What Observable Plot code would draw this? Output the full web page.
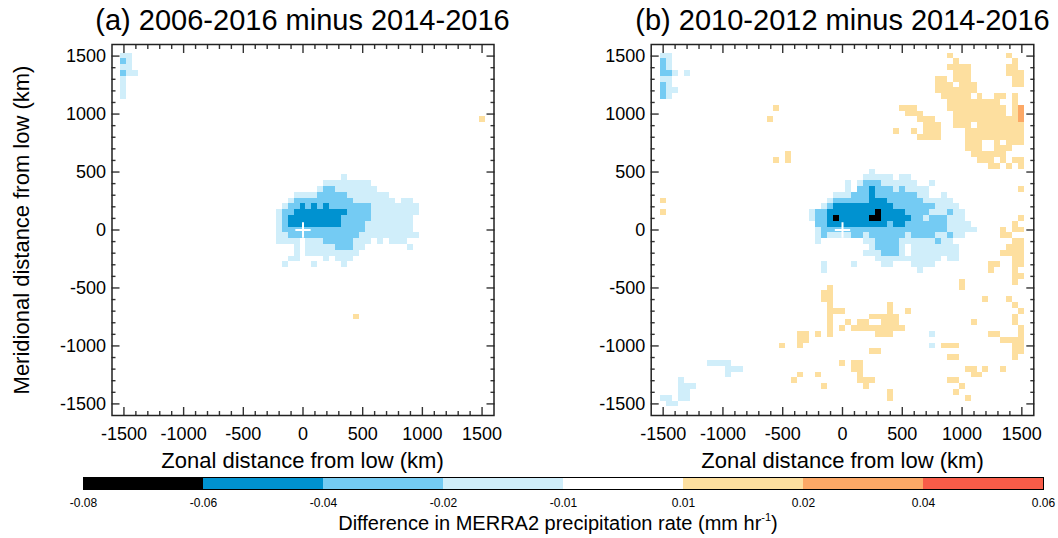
<!DOCTYPE html>
<html><head><meta charset="utf-8">
<script src="https://cdn.jsdelivr.net/npm/d3@7"></script>
<script src="https://cdn.jsdelivr.net/npm/@observablehq/plot@0.6"></script>
<style>
html,body{margin:0;padding:0;background:#fff;}
#root{position:relative;width:1058px;height:538px;overflow:hidden;font-family:"Liberation Sans",Arial,Helvetica,sans-serif;color:#000;}
.abs{position:absolute;white-space:nowrap;line-height:1;}
.title{font-size:29px;transform:translateX(-50%);}
.axt{font-size:22px;transform:translateX(-50%);}
.ylab{font-size:22px;transform:translate(-50%,-50%) rotate(-90deg);}
.cbt{font-size:20px;transform:translateX(-50%);}
.cbt sup{font-size:11px;vertical-align:9px;}
</style></head>
<body><div id="root"></div>
<script>
// ---- colour bins (mm/hr) ----
const binEdges = [-0.08, -0.06, -0.04, -0.02, -0.01, 0.01, 0.02, 0.04, 0.06];
const binLabels = ["-0.08", "-0.06", "-0.04", "-0.02", "-0.01", "0.01", "0.02", "0.04", "0.06"];
const binColors = ["#000000", "#0092d0", "#74cbf3", "#d0eefa", "#ffffff", "#fddf9f", "#fca866", "#f85c48"];
const binMid = [-0.07, -0.05, -0.03, -0.015, 0, 0.015, 0.03, 0.05];
const codeValue = {K: -0.07, D: -0.05, M: -0.03, L: -0.015, Y: 0.015, O: 0.03, R: 0.05};

// ---- grid ----
const cellSize = 50; // km
const majorTicks = [-1500, -1000, -500, 0, 500, 1000, 1500];
const minorTicks = [-1400,-1300,-1200,-1100,-900,-800,-700,-600,-400,-300,-200,-100,100,200,300,400,600,700,800,900,1100,1200,1300,1400];
const lowCenter = [{x: 0, y: 0}];

// runs: [row j, first column i, last column i, bin code]; cell centre = (i*50 km, j*50 km)
const panelA = [
 [30,-30,-29,"L"],
 [29,-30,-30,"M"],[29,-29,-29,"L"],
 [28,-30,-29,"L"],
 [27,-30,-30,"M"],[27,-29,-28,"L"],
 [26,-30,-30,"L"],[25,-30,-30,"L"],[24,-30,-30,"L"],[23,-30,-30,"L"],
 [19,30,30,"Y"],[-15,9,9,"Y"],
 [9,7,7,"L"],
 [8,4,11,"L"],
 [7,3,3,"L"],[7,4,5,"M"],[7,6,12,"L"],
 [6,-1,2,"L"],[6,3,7,"M"],[6,8,14,"L"],
 [5,-2,-2,"L"],[5,-1,8,"M"],[5,9,15,"L"],[5,17,18,"L"],
 [4,-3,-3,"L"],[4,-2,-1,"M"],[4,0,0,"D"],[4,1,1,"M"],[4,2,2,"D"],[4,3,3,"M"],[4,4,4,"D"],[4,5,11,"M"],[4,12,19,"L"],
 [3,-4,-4,"L"],[3,-3,-2,"M"],[3,-1,7,"D"],[3,8,11,"M"],[3,12,19,"L"],
 [2,-4,-4,"L"],[2,-3,-3,"M"],[2,-2,6,"D"],[2,7,11,"M"],[2,12,18,"L"],
 [1,-4,-4,"L"],[1,-3,-3,"M"],[1,-2,6,"D"],[1,7,10,"M"],[1,11,18,"L"],
 [0,-4,-4,"L"],[0,-3,10,"M"],[0,11,18,"L"],
 [-1,-4,-3,"L"],[-1,-2,9,"M"],[-1,10,19,"L"],
 [-2,-4,-1,"L"],[-2,1,3,"L"],[-2,4,8,"M"],[-2,9,11,"L"],[-2,13,13,"L"],[-2,15,17,"L"],
 [-3,-1,-1,"L"],[-3,1,5,"L"],[-3,6,8,"M"],[-3,9,10,"L"],[-3,18,18,"L"],
 [-4,-1,-1,"L"],[-4,1,9,"L"],
 [-5,-2,-1,"L"],[-5,4,4,"L"],[-5,6,8,"L"],
 [-6,-3,-3,"L"],[-6,2,2,"L"],[-6,7,7,"L"]
];

const panelBBlue = [
 [30,-30,-29,"L"],
 [29,-30,-30,"M"],[29,-29,-29,"L"],
 [28,-30,-30,"M"],[28,-29,-29,"L"],
 [27,-30,-29,"M"],[27,-28,-28,"L"],[27,-26,-26,"L"],
 [26,-30,-29,"L"],
 [25,-30,-30,"M"],[25,-29,-29,"L"],
 [24,-30,-30,"M"],[24,-29,-28,"L"],
 [23,-30,-30,"M"],[23,-29,-29,"L"],
 [10,5,5,"L"],
 [9,4,8,"L"],[9,10,11,"L"],
 [8,1,1,"L"],[8,3,3,"L"],[8,4,6,"M"],[8,7,12,"L"],[8,15,15,"L"],
 [7,1,1,"L"],[7,3,4,"M"],[7,5,5,"D"],[7,6,8,"M"],[7,9,9,"L"],[7,10,10,"M"],[7,11,14,"L"],
 [6,-1,1,"L"],[6,2,4,"M"],[6,5,5,"D"],[6,6,12,"M"],[6,13,14,"L"],[6,17,17,"L"],
 [5,-2,-2,"L"],[5,-1,4,"M"],[5,5,7,"D"],[5,8,13,"M"],[5,14,18,"L"],
 [4,-3,-3,"L"],[4,-2,-2,"M"],[4,-1,8,"D"],[4,9,15,"M"],[4,16,19,"L"],
 [3,-5,-5,"L"],[3,-4,-3,"M"],[3,-2,5,"D"],[3,6,6,"K"],[3,7,10,"D"],[3,11,14,"M"],[3,15,17,"L"],[3,18,18,"M"],[3,19,20,"L"],
 [2,-5,-5,"L"],[2,-4,-3,"M"],[2,-2,-2,"D"],[2,-1,-1,"K"],[2,0,4,"D"],[2,5,6,"K"],[2,7,11,"D"],[2,12,13,"M"],[2,14,14,"L"],[2,15,17,"M"],[2,18,20,"L"],
 [1,-4,-3,"M"],[1,-2,7,"D"],[1,8,8,"M"],[1,9,10,"D"],[1,11,17,"M"],[1,18,21,"L"],
 [0,-4,-4,"L"],[0,-3,17,"M"],[0,18,22,"L"],
 [-1,-4,-4,"L"],[-1,-3,-3,"M"],[-1,-2,1,"L"],[-1,2,3,"M"],[-1,4,4,"L"],[-1,5,10,"M"],[-1,11,11,"L"],[-1,12,15,"M"],[-1,16,17,"L"],[-1,18,18,"M"],[-1,19,20,"L"],
 [-2,-4,-4,"L"],[-2,4,5,"L"],[-2,6,9,"M"],[-2,10,15,"L"],[-2,16,16,"M"],[-2,17,18,"L"],
 [-3,5,5,"L"],[-3,6,9,"M"],[-3,10,10,"L"],[-3,12,19,"L"],
 [-4,4,6,"L"],[-4,7,9,"M"],[-4,10,10,"L"],[-4,12,19,"L"],
 [-5,6,16,"L"],[-5,18,19,"L"],
 [-6,-3,-3,"L"],[-6,2,2,"L"],[-6,7,8,"L"],[-6,12,15,"L"],
 [-7,-3,-3,"L"],[-7,13,13,"L"],
 [-18,15,15,"L"],[-20,15,15,"L"],
 [-23,-22,-19,"L"],[-24,-19,-17,"L"],[-25,-19,-19,"L"],
 [-26,-27,-27,"L"],[-27,-27,-25,"L"],[-28,-27,-26,"L"],[-29,-30,-29,"L"],[-29,-27,-26,"L"],[-30,-29,-28,"L"]
];

const panelBWarm = [
 [30,18,18,"Y"],[30,28,28,"Y"],
 [29,19,19,"Y"],[29,29,29,"Y"],
 [28,18,21,"Y"],[28,28,29,"Y"],
 [27,19,21,"Y"],[27,28,30,"Y"],
 [26,16,17,"Y"],[26,19,21,"Y"],[26,29,30,"Y"],
 [25,16,18,"Y"],[25,20,22,"Y"],[25,29,30,"Y"],
 [24,16,22,"Y"],
 [23,17,21,"Y"],[23,23,23,"Y"],[23,26,27,"Y"],[23,29,29,"Y"],
 [22,18,26,"Y"],[22,29,29,"Y"],
 [21,10,12,"Y"],[21,18,27,"Y"],[21,29,29,"Y"],[21,30,30,"O"],
 [20,11,13,"Y"],[20,19,27,"Y"],[20,29,29,"Y"],[20,30,30,"O"],
 [19,13,15,"Y"],[19,19,29,"Y"],[19,30,30,"O"],
 [18,14,16,"Y"],[18,19,21,"Y"],[18,23,30,"Y"],
 [17,9,9,"Y"],[17,12,12,"Y"],[17,14,16,"Y"],[17,21,30,"Y"],
 [16,13,16,"Y"],[16,21,30,"Y"],
 [15,21,23,"Y"],[15,26,26,"Y"],[15,28,30,"Y"],
 [14,21,23,"Y"],[14,26,28,"Y"],
 [13,22,27,"Y"],
 [12,23,25,"Y"],[12,27,27,"Y"],[12,29,30,"Y"],
 [11,25,26,"Y"],[11,28,28,"Y"],[11,30,30,"Y"],
 [21,-11,-11,"Y"],[19,-12,-12,"Y"],[13,-9,-9,"Y"],[12,-11,-11,"Y"],[12,-9,-9,"Y"],
 [7,30,30,"Y"],[5,-30,-30,"Y"],[3,-30,-30,"Y"],[2,30,30,"Y"],[1,29,29,"Y"],
 [0,27,27,"Y"],[0,29,30,"Y"],[-1,27,28,"Y"],[-2,29,30,"Y"],[-3,28,30,"Y"],[-4,27,30,"Y"],
 [-5,29,30,"Y"],[-6,25,26,"Y"],[-6,29,30,"Y"],[-7,25,25,"Y"],[-7,29,29,"Y"],[-8,29,30,"Y"],
 [-9,20,20,"Y"],[-9,29,29,"Y"],[-10,-2,-2,"Y"],[-10,20,20,"Y"],
 [-11,-3,-2,"Y"],
 [-12,-3,-2,"Y"],[-12,24,24,"Y"],[-12,28,28,"Y"],
 [-13,-2,-2,"Y"],[-13,8,8,"Y"],[-13,29,29,"Y"],
 [-14,-2,0,"Y"],[-14,8,8,"Y"],[-14,11,11,"Y"],[-14,30,30,"Y"],
 [-15,-2,-2,"Y"],[-15,5,9,"Y"],[-15,29,29,"Y"],
 [-16,-2,-2,"Y"],[-16,1,1,"Y"],[-16,3,4,"Y"],[-16,7,9,"Y"],[-16,22,22,"Y"],[-16,29,29,"Y"],
 [-17,-2,-2,"Y"],[-17,0,0,"Y"],[-17,2,10,"Y"],[-17,30,30,"Y"],
 [-18,-7,-6,"Y"],[-18,-4,-4,"Y"],[-18,-2,-2,"Y"],[-18,6,8,"Y"],[-18,25,26,"Y"],[-18,30,30,"Y"],
 [-19,-7,-6,"Y"],[-19,27,30,"Y"],
 [-20,-10,-10,"Y"],[-20,-7,-7,"Y"],[-20,17,19,"Y"],[-20,29,30,"Y"],
 [-21,5,6,"Y"],[-21,29,30,"Y"],
 [-22,18,19,"Y"],[-22,29,29,"Y"],
 [-23,0,0,"Y"],[-23,2,3,"Y"],
 [-24,2,3,"Y"],[-24,21,22,"Y"],[-24,24,24,"Y"],[-24,27,27,"Y"],
 [-25,-7,-7,"Y"],[-25,-4,-4,"Y"],[-25,3,3,"Y"],[-25,22,23,"Y"],
 [-26,-8,-8,"Y"],[-26,3,5,"Y"],[-26,18,19,"Y"],
 [-27,-3,-3,"Y"],[-27,4,4,"Y"],[-27,20,20,"Y"],
 [-28,8,8,"Y"],[-28,19,19,"Y"],
 [-29,8,8,"Y"],[-29,21,21,"Y"]
];

const titles = ["(a) 2006-2016 minus 2014-2016", "(b) 2010-2012 minus 2014-2016"];

function expand(runs) {
  const out = [];
  for (const [j, i0, i1, c] of runs)
    for (let i = i0; i <= i1; i++) out.push({x: i * cellSize, y: j * cellSize, value: codeValue[c]});
  return out;
}

const colorScale = {type: "threshold", domain: binEdges.slice(1, -1), range: binColors};
const FONT = "Liberation Sans, Arial, Helvetica, sans-serif";
const TICK = "#333";

function tickAxes() {
  const m = [];
  for (const [list, len] of [[majorTicks, -8], [minorTicks, -4]]) {
    for (const a of ["bottom", "top"]) m.push(Plot.axisX(list, {anchor: a, tickSize: len, tickFormat: () => "", stroke: TICK, strokeWidth: 1.4}));
    for (const a of ["left", "right"]) m.push(Plot.axisY(list, {anchor: a, tickSize: len, tickFormat: () => "", stroke: TICK, strokeWidth: 1.4}));
  }
  return m;
}

function panel(runs, ml, mr) {
  const cells = expand(runs);
  return Plot.plot({
    width: 529, height: 470, marginTop: 44, marginBottom: 55, marginLeft: ml, marginRight: mr,
    x: {domain: [-1600, 1600], label: null},
    y: {domain: [-1600, 1600], label: null},
    color: colorScale,
    style: {fontFamily: FONT, fontSize: "18px", color: "#000", background: "transparent", overflow: "visible"},
    marks: [
      Plot.rect(cells, {x1: d => d.x - cellSize / 2, x2: d => d.x + cellSize / 2, y1: d => d.y - cellSize / 2, y2: d => d.y + cellSize / 2, fill: "value", shapeRendering: "crispEdges"}),
      Plot.dot(lowCenter, {x: "x", y: "y", symbol: "plus", r: 5, stroke: "white", strokeWidth: 2}),
      ...tickAxes(),
      Plot.axisX(majorTicks, {anchor: "bottom", tickSize: 0, tickPadding: 12, tickFormat: d => String(d), fontSize: 18}),
      Plot.axisY(majorTicks, {anchor: "left", tickSize: 0, tickPadding: 6, tickFormat: d => String(d), fontSize: 18}),
      Plot.frame({stroke: "#222", strokeWidth: 1.5})
    ]
  });
}

const root = document.getElementById("root");
function place(el, left, top) { el.style.position = "absolute"; el.style.left = left + "px"; el.style.top = top + "px"; root.appendChild(el); return el; }

place(panel(panelA, 111.5, 35.5), 0, 0);
place(panel(panelBBlue.concat(panelBWarm), 121.7, 24.7), 529, 0);

// colour bar
const binIndex = d3.range(binColors.length);
const bar = Plot.plot({
  width: 1058, height: 46, marginLeft: 83, marginRight: 15, marginTop: 7, marginBottom: 27,
  x: {domain: [0, binColors.length], label: null},
  color: colorScale,
  style: {fontFamily: FONT, fontSize: "12px", color: "#000", background: "transparent", overflow: "visible"},
  marks: [
    Plot.rect(binIndex, {x1: d => d, x2: d => d + 1, fill: d => binMid[d]}),
    Plot.frame({stroke: "#000", strokeWidth: 1}),
    Plot.axisX(d3.range(binEdges.length), {anchor: "bottom", tickSize: 0, tickPadding: 9, tickFormat: i => binLabels[i], fontSize: 12})
  ]
});
place(bar, 0, 470);

function text(cls, html, left, top) { const d = document.createElement("div"); d.className = "abs " + cls; d.innerHTML = html; return place(d, left, top); }
text("title", titles[0], 302.5, 6);
text("title", titles[1], 842.5, 6);
text("axt", "Zonal distance from low (km)", 302.5, 450);
text("axt", "Zonal distance from low (km)", 842.5, 450);
text("ylab", "Meridional distance from low (km)", 22, 230);
text("cbt", "Difference in MERRA2 precipitation rate (mm hr<sup>-1</sup>)", 558, 512);
</script>
</body></html>
